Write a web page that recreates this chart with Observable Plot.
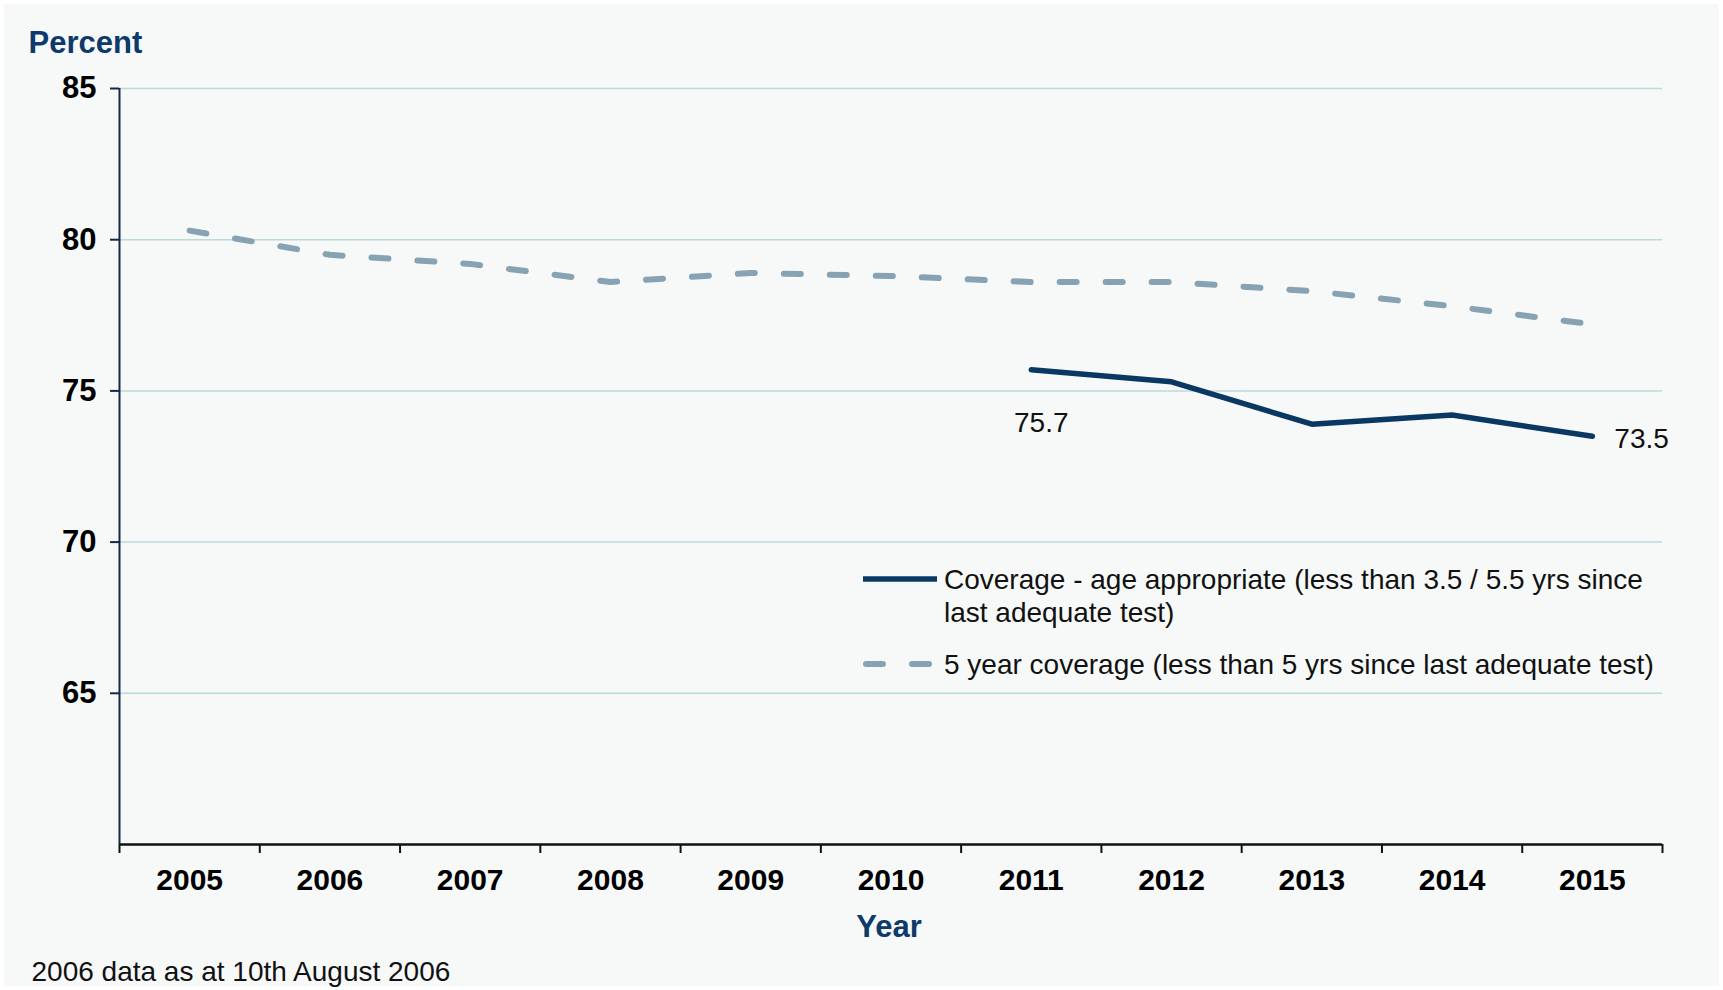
<!DOCTYPE html>
<html>
<head>
<meta charset="utf-8">
<script src="https://cdn.jsdelivr.net/npm/d3@7"></script>
<script src="https://cdn.jsdelivr.net/npm/@observablehq/plot@0.6"></script>
<style>
  html, body { margin: 0; padding: 0; background: #ffffff; }
  #wrap { position: relative; width: 1723px; height: 990px; background: #ffffff; overflow: hidden;
          font-family: "Liberation Sans", Arial, sans-serif; }
  #panel { position: absolute; left: 4px; top: 4px; right: 4px; bottom: 4px; background: #f7f9f9; }
  #chart { position: absolute; left: 0; top: 0; }
  .leg { position: absolute; font-size: 28px; line-height: 33px; color: #111; white-space: nowrap; }
  .legsw { position: absolute; }
</style>
</head>
<body>
<div id="wrap">
  <div id="panel"></div>
  <div id="chart"></div>
  <svg class="legsw" style="left:855px;top:560px" width="95" height="120">
    <line x1="8" y1="19" x2="82" y2="19" stroke="#0b3763" stroke-width="5.5"></line>
    <line x1="11" y1="104" x2="80" y2="104" stroke="#87a2b2" stroke-width="6" stroke-dasharray="17,29" stroke-linecap="round"></line>
  </svg>
  <div class="leg" id="leg1" style="left:944px;top:563px"></div>
  <div class="leg" id="leg2" style="left:944px;top:648px"></div>
</div>
<script>
// ---- data ----
const years = [2005, 2006, 2007, 2008, 2009, 2010, 2011, 2012, 2013, 2014, 2015];
const fiveYearCoverage = [80.3, 79.5, 79.2, 78.6, 78.9, 78.8, 78.6, 78.6, 78.3, 77.8, 77.2];
const ageYears = [2011, 2012, 2013, 2014, 2015];
const ageAppropriateCoverage = [75.7, 75.3, 73.9, 74.2, 73.5];
const yTicks = [65, 70, 75, 80, 85];
const yDomain = [60, 85];
const seriesNames = [
  "Coverage - age appropriate (less than 3.5 / 5.5 yrs since|last adequate test)",
  "5 year coverage (less than 5 yrs since last adequate test)"
];
const yTitle = "Percent";
const xTitle = "Year";
const caption = "2006 data as at 10th August 2006";

// ---- derived tables ----
const fiveData = years.map((year, i) => ({year, value: fiveYearCoverage[i]}));
const ageData = ageYears.map((year, i) => ({year, value: ageAppropriateCoverage[i]}));
const xDomain = [d3.min(years) - 0.5, d3.max(years) + 0.5];
const boundaries = years.map(y => y - 0.5).concat([d3.max(years) + 0.5]);

const navy = "#0b3763";
const grey = "#87a2b2";
const font = "'Liberation Sans', Arial, sans-serif";

const chart = Plot.plot({
  width: 1723,
  height: 990,
  marginLeft: 119,
  marginRight: 61,
  marginTop: 88,
  marginBottom: 146,
  style: {background: "transparent", fontFamily: font, color: "#000", overflow: "visible"},
  x: {type: "linear", domain: xDomain},
  y: {domain: yDomain},
  marks: [
    Plot.gridY(yTicks, {stroke: "#bcd9dc", strokeOpacity: 1, strokeWidth: 1.5}),
    Plot.ruleX([xDomain[0]], {stroke: "#13294b", strokeWidth: 2}),
    Plot.ruleY([yDomain[0]], {stroke: "#111", strokeWidth: 2.5}),
    Plot.axisY(yTicks, {tickSize: 9, tickPadding: 14, fontSize: 31, fontWeight: "bold",
      stroke: "#13294b", strokeWidth: 2, label: null, tickFormat: d => String(d)}),
    Plot.axisX(boundaries, {tickSize: 9, tickFormat: () => "", label: null, stroke: "#111", strokeWidth: 2}),
    Plot.axisX(years, {tickSize: 0, tickPadding: 24, fontSize: 30, fontWeight: "bold",
      label: null, tickFormat: d => String(d)}),
    Plot.line(fiveData, {x: "year", y: "value", stroke: grey, strokeWidth: 6,
      strokeDasharray: "17,29", strokeLinecap: "round"}),
    Plot.line(ageData, {x: "year", y: "value", stroke: navy, strokeWidth: 5.5, strokeLinejoin: "round"}),
    Plot.text([ageData[0]], {x: "year", y: "value", text: d => d.value.toFixed(1),
      dx: 10, dy: 53, fontSize: 28, fill: "#111"}),
    Plot.text([ageData[ageData.length - 1]], {x: "year", y: "value", text: d => d.value.toFixed(1),
      dx: 22, dy: 3, textAnchor: "start", fontSize: 28, fill: "#111"}),
    Plot.text([yTitle], {frameAnchor: "top-left", dx: -91, dy: -58, textAnchor: "start",
      fontSize: 31, fontWeight: "bold", fill: "#0d3a6b"}),
    Plot.text([xTitle], {frameAnchor: "bottom", dx: -2, dy: 92,
      fontSize: 31, fontWeight: "bold", fill: "#0d3a6b"}),
    Plot.text([caption], {frameAnchor: "bottom-left", dx: -88, dy: 136, textAnchor: "start",
      fontSize: 28, fill: "#111"})
  ]
});
document.getElementById("chart").appendChild(chart);
document.getElementById("leg1").innerHTML = seriesNames[0].split("|").join("<br>");
document.getElementById("leg2").textContent = seriesNames[1];
</script>
</body>
</html>
